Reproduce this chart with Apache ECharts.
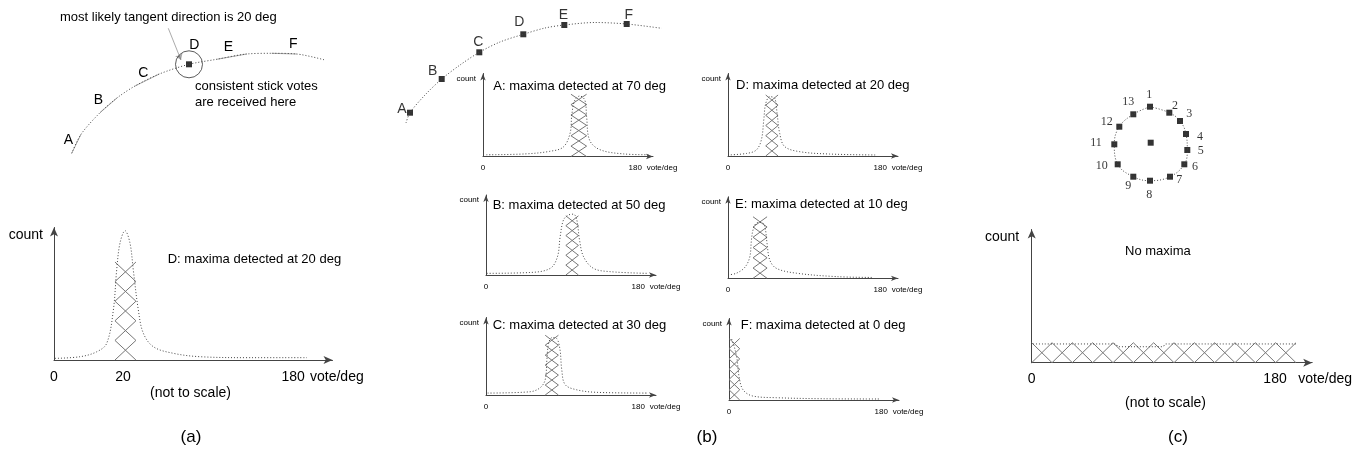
<!DOCTYPE html>
<html>
<head>
<meta charset="utf-8">
<title>stick votes</title>
<script src="https://cdn.jsdelivr.net/npm/echarts@6.0.0/dist/echarts.min.js"></script>
<style>
  html, body { margin: 0; padding: 0; background: #fff; }
  #charsId { width: 1354px; height: 453px; }
</style>
</head>
<body>
<div id="charsId"></div>
<script>
// ================= data =================

// (a) the curve, in units of its own little plane (x right, y up)
var curveA = [[21.7,16.7],[31,35.7],[50,57.3],[67.3,72.3],[85,84],[109.3,96],[139,105.7],[166.7,110.7],[196.7,116],[221.7,116.7],[246.7,116],[275,110]];
// the tangent sticks at A, B, C, E, F
var sticksA = [
	[[21.7,16.7],[31,35.7]],
	[[50,57.3],[67.3,72.3]],
	[[85,84],[109.3,96]],
	[[166.7,110.7],[196.7,116]],
	[[221.7,116.7],[246.7,116]]
];
var pointD = [139,105.7];
var arrowA = [[118.3,141.7],[131,110]];
var lettersA = ['A','B','C','D','E','F'];

// (a) vote histogram (x: axis units, not to scale)
var voteA = [[0.75,1.2],[19.6,2.4],[32.2,6],[39.7,12.2],[44.7,36.5],[47.2,65.7],[49.7,85.4],[53.5,94.4],[57.2,85.4],[59.7,65.7],[63.5,36.5],[67.2,19.7],[74.8,9.7],[89.8,4.9],[110,2.4],[147.6,1.7],[190.3,1.7]];
var hatchA = [45.9, 61.7, 71.5];
var ticksA = [0, 52, 180];
var tickTextA = ['0', '20', '180'];

// (b) the curve with its six sample points
var curveB = [[16,7],[20,17.3],[35,35],[51.7,51],[70,65],[89.3,77.7],[110,88],[133.3,95.7],[155,102],[174.3,105],[205,107.5],[236.7,106],[271.7,101.7]];
var pointsB = [[20,17.3],[51.7,51],[89.3,77.7],[133.3,95.7],[174.3,105],[236.7,106]];
var namesB = ['A','B','C','D','E','F'];

// (b) the six histograms
var voteB_A = [[4,2],[50,3],[79,6],[95,11],[103,27],[105,48],[108.5,65],[114.5,70],[120.5,65],[122.5,46],[126,19],[138,8],[166,3],[197,2]];
var voteB_B = [[1,2],[52,3],[76,8],[84.5,22],[87.7,46],[91.6,66],[97.6,72],[103.5,73],[107.4,66],[110.6,42],[115.3,22],[127,8],[147,4],[190,2]];
var voteB_C = [[2,2.4],[52,4],[64,9],[70,19],[72,44],[74,64],[78,71],[83.5,70],[87.5,56],[89.5,32],[93.5,13],[107,6.5],[131,3.3],[190,2.4]];
var voteB_D = [[0,1.2],[22,3],[33.5,7],[39.5,19],[42.3,42],[44.6,61],[49.4,69],[55.3,67],[58,50],[61.2,26],[67,11],[85,5],[120,2.3],[174,1.2]];
var voteB_E = [[0,4],[10,6],[20,13],[25.7,25],[27.7,45],[29.6,57],[33.6,65],[39.5,66],[43.5,61],[46.2,41],[49.4,21.5],[57.3,11.7],[81,6],[128,2],[170,1]];
var voteB_F = [[0,73],[3,72],[9,51],[12,27],[16.6,12],[28,4.7],[56,2.7],[111,1.5],[178,1.2]];
var hatchB_A = [104, 122.5, 72];
var hatchB_B = [94.4, 109.3, 71];
var hatchB_C = [70, 85.6, 74];
var hatchB_D = [44.6, 59.2, 71];
var hatchB_E = [29.6, 46.2, 72.5];
var hatchB_F = [0, 12.7, 72.5];
var titlesB = ['A: maxima detected at 70 deg', 'B: maxima detected at 50 deg', 'C: maxima detected at 30 deg',
               'D: maxima detected at 20 deg', 'E: maxima detected at 10 deg', 'F: maxima detected at 0 deg'];
var ticksB = [0, 180];
var tickTextB = ['0', '180'];

// (c) the 13 points round a centre
var circleC = [[60,98.3],[79.3,92.3],[90,84],[96,71],[97.3,55],[94.3,40.7],[80,28.3],[60,24.3],[43.3,28.3],[27.7,40.7],[24.3,60.7],[29.3,78.3],[43.3,90.7]];
var centreC = [60.7, 62.3];
var numbersC = ['1','2','3','4','5','6','7','8','9','10','11','12','13'];

// (c) flat histogram
var voteC = [[1,13.6],[62,13.6],[64,11.6],[97,11.6],[99,13.6],[195.5,13.6]];
var hatchC = [0, 195.5, 14.5];
var ticksC = [0, 180];
var tickTextC = ['0', '180'];

// ================= drawing =================
var FONT = '"Liberation Sans", Arial, sans-serif';
var LINE = '#444';
var HATCH = '#777';
var DOTS = [1, 2];

var option = {
	backgroundColor: '#fff',
	animation: false,
	textStyle: { fontFamily: FONT },
	grid: [], xAxis: [], yAxis: [], series: [], graphic: []
};

// a hidden plane for the sketches
function addPlane(left, top, w, h) {
	var i = option.grid.length;
	option.grid.push({ left: left, top: top, width: w, height: h, outerBoundsMode: 'none' });
	option.xAxis.push({ type: 'value', gridIndex: i, min: 0, max: w, show: false });
	option.yAxis.push({ type: 'value', gridIndex: i, min: 0, max: h, show: false });
	return i;
}

// hatched cells: one X in every cell
function renderHatch(params, api) {
	var x0 = api.value(0), x1 = api.value(1), top = api.value(2);
	var nx = api.value(3), ny = api.value(4);
	var a = api.coord([x0, 0]), b = api.coord([x1, top]);
	var cw = (b[0] - a[0]) / nx, ch = (a[1] - b[1]) / ny;
	var kids = [];
	for (var i = 0; i < nx; i++) {
		for (var j = 0; j < ny; j++) {
			var l = a[0] + i * cw, bt = a[1] - j * ch;
			kids.push({ type: 'line', shape: { x1: l, y1: bt, x2: l + cw, y2: bt - ch }, style: { stroke: HATCH, lineWidth: 1 } });
			kids.push({ type: 'line', shape: { x1: l + cw, y1: bt, x2: l, y2: bt - ch }, style: { stroke: HATCH, lineWidth: 1 } });
		}
	}
	return { type: 'group', children: kids };
}

function addHist(p) {
	var i = option.grid.length;
	var f = p.small ? 8 : 14;
	var arrow = p.small ? [4, 7] : [6, 9];
	option.grid.push({ left: p.left, top: p.top, width: p.width, height: p.height, outerBoundsMode: 'none' });
	option.xAxis.push({
		type: 'value', gridIndex: i, min: 0, max: p.xMax,
		name: 'vote/deg', nameLocation: 'end', nameGap: p.nameGap, nameMoveOverlap: false,
		nameTextStyle: { fontSize: f, color: '#000', align: 'left', verticalAlign: 'top', padding: [p.margin, 0, 0, 0] },
		axisLine: { show: true, lineStyle: { color: LINE, width: 1 }, symbol: ['none', 'arrow'], symbolSize: arrow },
		axisTick: { show: false }, splitLine: { show: false },
		axisLabel: {
			customValues: p.ticks, fontSize: f, color: '#000', margin: p.margin,
			formatter: function (v) { return p.tickText[p.ticks.indexOf(v)]; }
		}
	});
	option.yAxis.push({
		type: 'value', gridIndex: i, min: 0, max: p.yMax,
		name: 'count', nameLocation: 'end', nameGap: p.countGap, nameMoveOverlap: false,
		nameTextStyle: { fontSize: f, color: '#000', align: 'right', verticalAlign: 'middle', padding: [0, p.countPad, 0, 0] },
		axisLine: { show: true, lineStyle: { color: LINE, width: 1 }, symbol: ['none', 'arrow'], symbolSize: arrow },
		axisTick: { show: false }, splitLine: { show: false }, axisLabel: { show: false }
	});
	option.series.push({
		type: 'custom', xAxisIndex: i, yAxisIndex: i, silent: true,
		data: [p.hatch.concat(p.cells)], renderItem: renderHatch
	});
	option.series.push({
		type: 'line', xAxisIndex: i, yAxisIndex: i, silent: true,
		data: p.vote, smooth: 0.35, symbol: 'none',
		lineStyle: { color: LINE, width: 1, type: DOTS }
	});
}

function text(x, y, str, size, align, family) {
	option.graphic.push({
		type: 'text', x: x, y: y, silent: true,
		style: {
			text: str, fill: '#000', font: size + 'px ' + (family || FONT),
			align: align || 'left', verticalAlign: 'middle',
			textAlign: align || 'left', textVerticalAlign: 'middle'
		}
	});
}

// ---------- (a) ----------
var ga = addPlane(50, 0, 300, 170);
option.series.push({
	type: 'line', xAxisIndex: ga, yAxisIndex: ga, silent: true, data: curveA,
	smooth: 0.3, symbol: 'none', lineStyle: { color: LINE, width: 1, type: DOTS }
});
option.series.push({
	type: 'lines', coordinateSystem: 'cartesian2d', xAxisIndex: ga, yAxisIndex: ga, silent: true,
	data: sticksA.map(function (s) { return { coords: s }; }),
	lineStyle: { color: '#555', width: 1 }
});
option.series.push({
	type: 'lines', coordinateSystem: 'cartesian2d', xAxisIndex: ga, yAxisIndex: ga, silent: true,
	data: [{ coords: arrowA }], symbol: ['none', 'arrow'], symbolSize: 6,
	lineStyle: { color: '#555', width: 1 }
});
option.series.push({
	type: 'scatter', xAxisIndex: ga, yAxisIndex: ga, silent: true, data: [pointD],
	symbol: 'rect', symbolSize: 6, itemStyle: { color: '#000' }
});
option.series.push({
	type: 'scatter', xAxisIndex: ga, yAxisIndex: ga, silent: true, data: [pointD],
	symbol: 'circle', symbolSize: 27, itemStyle: { color: 'rgba(0,0,0,0)', borderColor: '#333', borderWidth: 1 }
});
var letterPosA = [[68.3,140],[98.3,100],[143.3,72.7],[194.3,45],[228.3,46.7],[293.3,44]];
lettersA.forEach(function (s, k) { text(letterPosA[k][0], letterPosA[k][1], s, 14, 'center'); });
text(60, 17, 'most likely tangent direction is 20 deg', 13);
text(195, 86, 'consistent stick votes', 13);
text(195, 102, 'are received here', 13);

addHist({
	left: 54, top: 227.5, width: 278.5, height: 132.5, xMax: 209.7, yMax: 96.7,
	ticks: ticksA, tickText: tickTextA, margin: 10, nameGap: -22.5, countGap: -7.5, countPad: 11,
	vote: voteA, hatch: hatchA, cells: [1, 5]
});
text(167.7, 259.3, 'D: maxima detected at 20 deg', 13);
text(190.5, 392.7, '(not to scale)', 14, 'center');

// ---------- (b) ----------
var gb = addPlane(390, 0, 290, 130);
option.series.push({
	type: 'line', xAxisIndex: gb, yAxisIndex: gb, silent: true, data: curveB,
	smooth: 0.3, symbol: 'none', lineStyle: { color: LINE, width: 1, type: DOTS }
});
var labelOffB = [[-8,-4],[-9,-8],[-1,-10],[-4,-12],[-1,-10],[2,-9]];
option.series.push({
	type: 'scatter', xAxisIndex: gb, yAxisIndex: gb, silent: true,
	symbol: 'rect', symbolSize: 6, itemStyle: { color: '#000' },
	data: pointsB.map(function (pt, k) {
		return { value: pt, label: { show: true, position: 'inside', offset: labelOffB[k], formatter: namesB[k], fontSize: 14, color: '#000', fontFamily: FONT } };
	})
});

var slotsB = [
	{ left: 483, top: 73.5, height: 83, vote: voteB_A, hatch: hatchB_A, tx: 493.3, ty: 86 },
	{ left: 486, top: 195, height: 80, vote: voteB_B, hatch: hatchB_B, tx: 492.7, ty: 205 },
	{ left: 486, top: 317.5, height: 77.5, vote: voteB_C, hatch: hatchB_C, tx: 492.7, ty: 325 },
	{ left: 728, top: 73.5, height: 82.5, vote: voteB_D, hatch: hatchB_D, tx: 736, ty: 85 },
	{ left: 728, top: 196.8, height: 81.5, vote: voteB_E, hatch: hatchB_E, tx: 735, ty: 204 },
	{ left: 729, top: 318.5, height: 81.5, vote: voteB_F, hatch: hatchB_F, tx: 740.7, ty: 325 }
];
slotsB.forEach(function (s, k) {
	addHist({
		left: s.left, top: s.top, width: 170, height: s.height, xMax: 201, yMax: 96, small: true,
		ticks: ticksB, tickText: tickTextB, margin: 7.5, nameGap: -6.3, countGap: -4.8, countPad: 7,
		vote: s.vote, hatch: s.hatch, cells: [1, 6]
	});
	text(s.tx, s.ty, titlesB[k], 13);
});

// ---------- (c) ----------
var gc = addPlane(1090, 85, 120, 120);
option.series.push({
	type: 'line', xAxisIndex: gc, yAxisIndex: gc, silent: true, data: circleC.concat([circleC[0]]),
	smooth: 0.4, symbol: 'none', lineStyle: { color: LINE, width: 1, type: DOTS }
});
var labelOffC = [[-0.7,-11.7],[5.7,-6.7],[9.3,-6.7],[14,2.7],[13.4,0.7],[10.7,3],[9.3,3.3],[-0.7,14.3],[-5,9.3],[-16,1.7],[-18.3,-1.6],[-12.6,-5],[-5,-12]];
option.series.push({
	type: 'scatter', xAxisIndex: gc, yAxisIndex: gc, silent: true,
	symbol: 'rect', symbolSize: 6, itemStyle: { color: '#000' },
	data: circleC.map(function (pt, k) {
		return { value: pt, label: { show: true, position: 'inside', offset: labelOffC[k], formatter: numbersC[k], fontSize: 12, color: '#000', fontFamily: '"Liberation Serif", serif' } };
	}).concat([{ value: centreC }])
});

addHist({
	left: 1031.7, top: 229.5, width: 280.5, height: 133.2, xMax: 207.5, yMax: 96.7,
	ticks: ticksC, tickText: tickTextC, margin: 9.6, nameGap: -13.9, countGap: -7.8, countPad: 12.5,
	vote: voteC, hatch: hatchC, cells: [13, 1]
});
text(1125, 251.7, 'No maxima', 13);
text(1165.5, 402.7, '(not to scale)', 14, 'center');

// captions
text(191, 437, '(a)', 17, 'center');
text(707, 437, '(b)', 17, 'center');
text(1178, 437, '(c)', 17, 'center');

var myChart = echarts.init(document.getElementById('charsId'));
myChart.setOption(option);
</script>
</body>
</html>
